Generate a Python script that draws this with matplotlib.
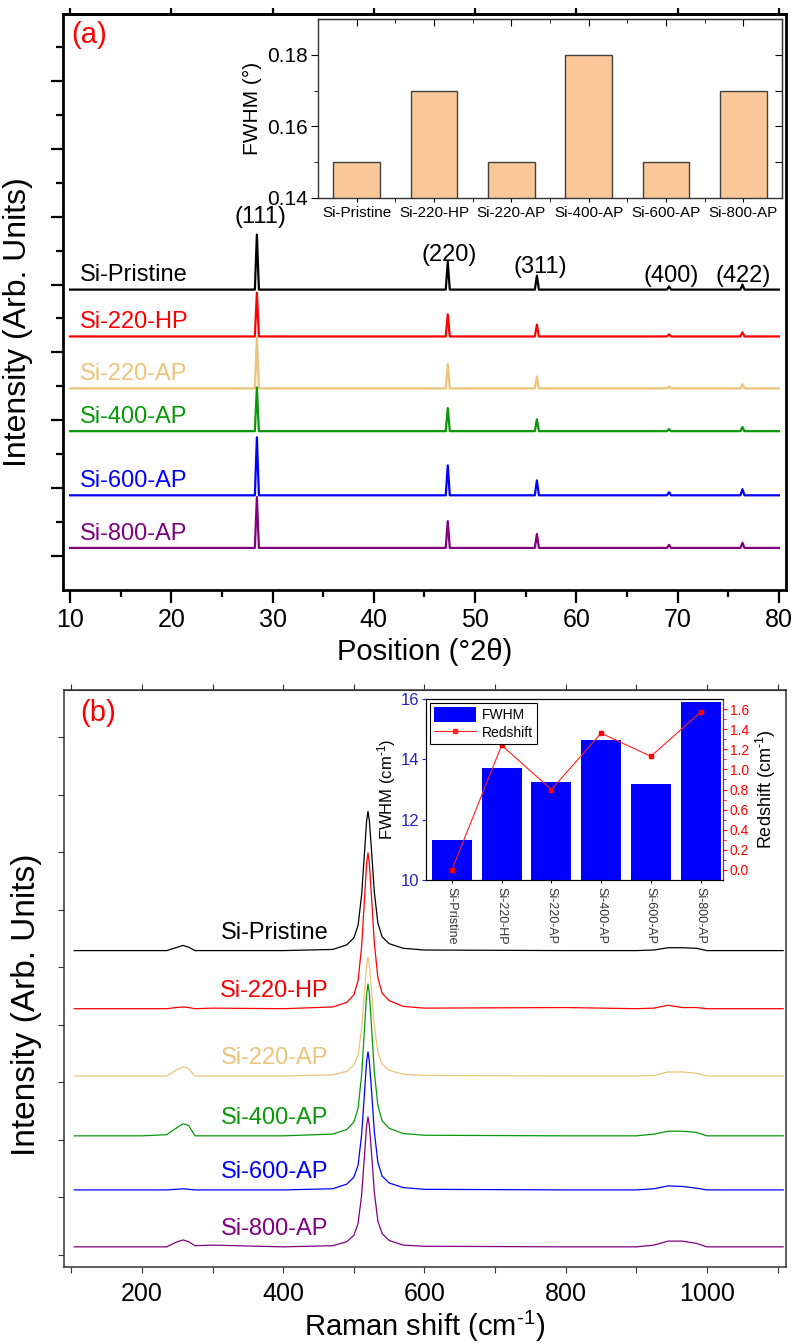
import numpy as np
import matplotlib.pyplot as plt
from matplotlib.patches import Patch
from matplotlib.lines import Line2D

plt.rcParams['font.family'] = ['Liberation Sans', 'DejaVu Sans']
plt.rcParams['mathtext.fontset'] = 'custom'
plt.rcParams['mathtext.rm'] = 'Liberation Sans'
plt.rcParams['mathtext.it'] = 'Liberation Sans:italic'

# ---- data ----
samples = ['Si-Pristine', 'Si-220-HP', 'Si-220-AP', 'Si-400-AP', 'Si-600-AP', 'Si-800-AP']
colors = ['#000000', '#ff0000', '#ebc47a', '#089808', '#0000ff', '#800080']

# XRD peaks (2theta) and heights above each baseline (arb.)
xrd_peaks = [28.45, 47.3, 56.1, 69.15, 76.4]
xrd_hkl = ['(111)', '(220)', '(311)', '(400)', '(422)']
xrd_offset = [8.85, 7.47, 5.94, 4.68, 2.79, 1.24]
xrd_heights = [
    [1.62, 0.82, 0.41, 0.09, 0.15],
    [1.29, 0.65, 0.35, 0.06, 0.12],
    [1.50, 0.71, 0.35, 0.06, 0.12],
    [1.29, 0.68, 0.35, 0.06, 0.12],
    [1.71, 0.88, 0.44, 0.09, 0.18],
    [1.50, 0.79, 0.41, 0.09, 0.15],
]
xrd_fwhm = [0.15, 0.17, 0.15, 0.18, 0.15, 0.17]

# Raman spectra
raman_x = [104, 200, 235, 248, 258, 266, 275, 300, 400,
           470, 490, 500, 506, 511, 515, 518, 520, 522, 525, 529, 534, 540, 550, 570,
           600, 800, 900, 925, 945, 965, 985, 1000, 1108]
raman_offset = [5.29, 4.28, 3.11, 2.07, 1.13, 0.14]
raman_y = [
    [0, 0, 0, 0.05, 0.09, 0.06, 0, 0, 0,
     0.02, 0.10, 0.22, 0.44, 0.97, 1.69, 2.25, 2.42, 2.25, 1.74, 1.02, 0.48, 0.24, 0.12, 0.04,
     0.01, 0, 0, 0.01, 0.05, 0.05, 0.04, 0, 0],
    [0, 0, 0, 0.02, 0.03, 0.02, 0, 0.01, 0,
     0.03, 0.11, 0.24, 0.49, 1.08, 1.90, 2.52, 2.71, 2.52, 1.95, 1.14, 0.54, 0.27, 0.14, 0.04,
     0.01, 0.02, 0, 0.01, 0.06, 0.02, 0.02, 0, 0],
    [0, 0, 0, 0.10, 0.16, 0.13, 0, 0, 0,
     0.02, 0.08, 0.19, 0.37, 0.83, 1.45, 1.93, 2.07, 1.93, 1.49, 0.87, 0.41, 0.21, 0.10, 0.03,
     0.01, 0, 0, 0.01, 0.07, 0.07, 0.05, 0, 0],
    [0, 0, 0.02, 0.13, 0.21, 0.18, 0, 0, 0,
     0.03, 0.11, 0.24, 0.48, 1.06, 1.85, 2.46, 2.64, 2.46, 1.90, 1.11, 0.53, 0.26, 0.13, 0.04,
     0.01, 0, 0, 0.03, 0.08, 0.08, 0.06, 0, 0],
    [0, 0, 0, 0.01, 0.02, 0.01, 0, 0, 0,
     0.02, 0.10, 0.22, 0.43, 0.96, 1.68, 2.23, 2.40, 2.23, 1.73, 1.01, 0.48, 0.24, 0.12, 0.04,
     0.01, 0, 0, 0.02, 0.07, 0.06, 0.03, 0, 0],
    [0, 0, 0, 0.08, 0.12, 0.09, 0.02, 0.03, 0,
     0.02, 0.09, 0.20, 0.41, 0.90, 1.58, 2.10, 2.26, 2.10, 1.63, 0.95, 0.45, 0.23, 0.11, 0.03,
     0.01, 0, 0, 0.03, 0.10, 0.10, 0.06, 0, 0],
]
raman_fwhm = [11.33, 13.70, 13.26, 14.64, 13.18, 15.91]
raman_redshift = [0.0, 1.24, 0.80, 1.36, 1.13, 1.57]

CM1 = 'cm$^{\u2010' + '1}$'


def xrd_curve(heights):
    xs, ys = [10.0], [0.0]
    for p, h in zip(xrd_peaks, heights):
        xs += [p - 0.2, p, p + 0.2]
        ys += [0.0, h, 0.0]
    xs.append(80.0)
    ys.append(0.0)
    return np.array(xs), np.array(ys)


fig = plt.figure(figsize=(7.97, 13.44), dpi=100)

# ================= (a) XRD =================
ax = fig.add_axes([0.0790, 0.5610, 0.9072, 0.4286])
for name, col, off, hts in zip(samples, colors, xrd_offset, xrd_heights):
    xs, ys = xrd_curve(hts)
    ax.plot(xs, ys + off, color=col, lw=1.6)
    ax.text(11.0, off + 0.1, name, color=col, fontsize=17, ha='left', va='bottom')

hkl_pos = [(28.76, 11.0), (47.4, 9.88), (56.4, 9.53), (69.4, 9.26), (76.5, 9.26)]
for lab, (px, py) in zip(xrd_hkl, hkl_pos):
    ax.text(px, py, lab, fontsize=17, ha='center', va='center')

ax.set_xlim(9.3, 80.7)
ax.set_ylim(0, 16.97)
ax.set_xticks(np.arange(10, 81, 10))
ax.set_xticks(np.arange(15, 80, 10), minor=True)
ax.set_yticks(np.arange(1, 17, 2))
ax.set_yticks(np.arange(2, 17, 2), minor=True)
ax.set_yticklabels([])
ax.tick_params(which='major', direction='out', length=9, width=1.6, labelsize=18, pad=4)
ax.tick_params(which='minor', direction='out', length=5, width=1.6)
for s in ax.spines.values():
    s.set_linewidth(2)
top = ax.secondary_xaxis('top')
top.set_xticks(np.arange(10, 81, 10))
top.set_xticklabels([])
top.tick_params(direction='out', length=4, width=1.6)
top.spines['top'].set_linewidth(2)
ax.set_xlabel('Position (°2θ)', fontsize=21, labelpad=4)
ax.set_ylabel('Intensity (Arb. Units)', fontsize=23)
ax.yaxis.set_label_coords(-0.042, 0.465)
ax.text(0.012, 0.963, '(a)', transform=ax.transAxes, color='red', fontsize=21,
        ha='left', va='center')

# inset: XRD FWHM
axi = fig.add_axes([0.399, 0.8527, 0.5822, 0.1332])
axi.bar(range(6), xrd_fwhm, width=0.6, color='#fac898', edgecolor='#404040', linewidth=1)
axi.set_xlim(-0.5, 5.5)
axi.set_ylim(0.14, 0.19)
axi.set_yticks([0.14, 0.16, 0.18])
axi.set_yticklabels(['0.14', '0.16', '0.18'])
axi.set_yticks([0.15, 0.17], minor=True)
axi.set_xticks(range(6))
axi.set_xticklabels(samples)
axi.set_xticks(np.arange(0.5, 5, 1), minor=True)
axi.tick_params(axis='y', which='major', direction='out', length=5, labelsize=15, pad=2)
axi.tick_params(axis='y', which='minor', direction='out', length=3)
axi.tick_params(axis='x', which='both', direction='out', length=3, labelsize=11, pad=3)
axi.set_ylabel('FWHM (°)', fontsize=15, labelpad=4)
for s in axi.spines.values():
    s.set_linewidth(1)
    s.set_color('#333333')
itop = axi.secondary_xaxis('top')
itop.set_xticks(range(6))
itop.set_xticks(np.arange(0.5, 5, 1), minor=True)
itop.set_xticklabels([])
itop.tick_params(which='major', direction='in', length=5)
itop.tick_params(which='minor', direction='in', length=3)
iright = axi.secondary_yaxis('right')
iright.set_yticks([0.15, 0.16, 0.17, 0.18])
iright.set_yticklabels([])
iright.tick_params(direction='in', length=5)

# ================= (b) Raman =================
bx = fig.add_axes([0.0803, 0.0573, 0.9059, 0.4293])
for name, col, off, yv in zip(samples, colors, raman_offset, raman_y):
    bx.plot(raman_x, np.array(yv) + off, color=col, lw=0.9)
    bx.text(464, off + 0.12, name, color=col, fontsize=17, ha='right', va='bottom')
bx.set_xlim(89.5, 1112)
bx.set_ylim(-0.21, 9.82)
bx.set_xticks([200, 400, 600, 800, 1000])
bx.set_xticks([100, 300, 500, 700, 900, 1100], minor=True)
bx.set_yticks(range(10))
bx.set_yticklabels([])
bx.tick_params(which='both', direction='out', length=4, width=0.8, color='#333333')
bx.tick_params(axis='x', labelsize=18, pad=7)
for s in bx.spines.values():
    s.set_linewidth(1.1)
    s.set_color('#333333')
btop = bx.secondary_xaxis('top')
btop.set_xticks([100, 200, 300, 400, 500, 600, 700, 800, 900, 1000, 1100])
btop.set_xticklabels([])
btop.tick_params(direction='out', length=4, width=0.8, color='#333333')
btop.spines['top'].set_color('#333333')
bx.set_xlabel('Raman shift (' + CM1 + ')', fontsize=21, labelpad=2)
bx.set_ylabel('Intensity (Arb. Units)', fontsize=24)
bx.yaxis.set_label_coords(-0.03, 0.454)
bx.text(0.022, 0.960, '(b)', transform=bx.transAxes, color='red', fontsize=21,
        ha='left', va='center')

# inset: Raman FWHM + redshift
bi = fig.add_axes([0.5345, 0.3452, 0.3727, 0.1347])
bi.bar(range(6), raman_fwhm, width=0.8, color='#0000ff', zorder=2)
bi.set_xlim(-0.52, 5.45)
bi.set_ylim(10, 16)
bi.set_yticks([10, 12, 14, 16])
bi.set_xticks(range(6))
bi.set_xticklabels(samples, rotation=-90, fontsize=9, color='#333333')
bi.tick_params(axis='y', direction='out', length=3, labelsize=12, colors='#2424c0', pad=2)
bi.tick_params(axis='x', direction='out', length=2, pad=3)
bi.set_ylabel('FWHM (' + CM1 + ')', fontsize=12, labelpad=2)
for s in bi.spines.values():
    s.set_linewidth(0.8)
    s.set_color('#333333')
bi.spines['left'].set_color('#2424c0')

br = bi.twinx()
br.plot(range(6), raman_redshift, color='#ff2020', lw=0.8, marker='s', ms=3,
        markerfacecolor='#ff0000', markeredgecolor='#ff0000')
br.set_ylim(-0.1, 1.7)
br.set_yticks(np.arange(0, 1.61, 0.2))
br.set_yticklabels([f'{v:.1f}' for v in np.arange(0, 1.61, 0.2)])
br.set_yticks(np.arange(0.1, 1.7, 0.2), minor=True)
br.tick_params(axis='y', which='major', direction='out', length=3, labelsize=10,
               colors='#ff0000', pad=2)
br.tick_params(axis='y', which='minor', direction='out', length=2, colors='#ff0000')
br.spines['right'].set_color('#ff0000')
br.spines['right'].set_linewidth(0.8)
br.set_ylabel('Redshift (' + CM1 + ')', fontsize=13, labelpad=3)

handles = [Patch(facecolor='#0000ff', edgecolor='none'),
           Line2D([], [], color='#ff2020', lw=0.8, marker='s', ms=3)]
leg = br.legend(handles, ['FWHM', 'Redshift'], loc='upper left', fontsize=10,
                frameon=True, fancybox=False, edgecolor='black', framealpha=1,
                borderaxespad=0.3, borderpad=0.3, handlelength=3.0, handleheight=1.2,
                handletextpad=0.4, labelspacing=0.2)
leg.get_frame().set_linewidth(0.8)

fig.savefig('out.png', dpi=100)
